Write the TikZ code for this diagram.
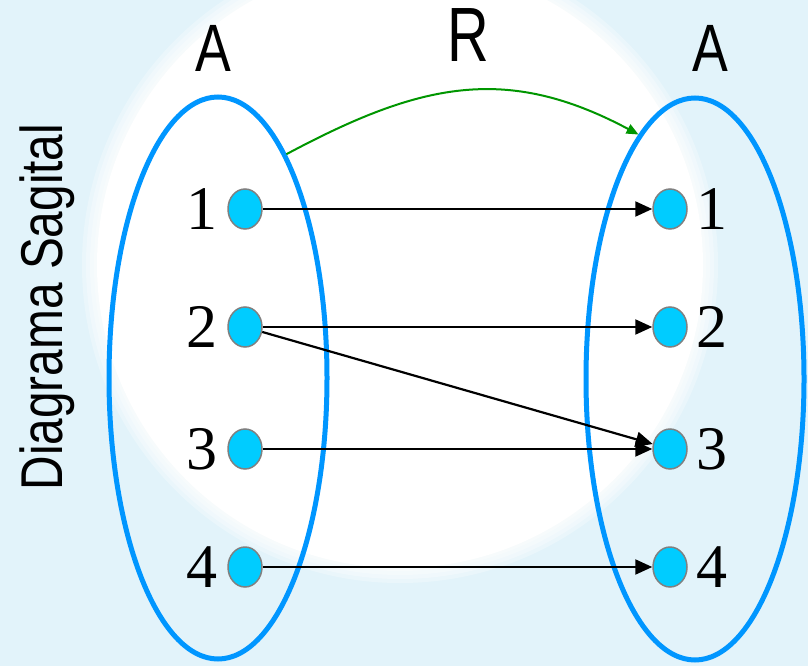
\documentclass[tikz,border=0pt]{standalone}
\usepackage{fontspec}
\setmainfont{Liberation Serif}
\newfontfamily\labelfont{Liberation Sans}
\usetikzlibrary{arrows.meta,shapes.geometric}
\definecolor{sky}{RGB}{226,243,250}
\definecolor{setblue}{RGB}{0,150,255}
\definecolor{dotcyan}{RGB}{0,204,255}
\definecolor{leaf}{RGB}{0,150,0}
\tikzset{
  set/.style={ellipse,draw=setblue,line width=5pt,minimum width=218pt,
    minimum height=562pt,inner sep=0pt},
  dot/.style={ellipse,fill=dotcyan,draw=gray,line width=1.5pt,minimum width=34pt,
    minimum height=40pt,inner sep=0pt},
  num/.style={font=\fontsize{62}{62}\selectfont,inner sep=0pt},
  setname/.style={font=\labelfont\fontsize{67}{67}\selectfont,inner sep=0pt,xscale=0.8},
  relname/.style={font=\labelfont\fontsize{77}{77}\selectfont,inner sep=0pt,xscale=0.75},
  sidetitle/.style={font=\labelfont\fontsize{59}{59}\selectfont,inner sep=0pt,
    rotate=90,anchor=base,xscale=0.81},
  pair/.style={-{Triangle[length=17pt,width=15pt]},line width=2.2pt},
  relarrow/.style={-{Triangle[length=12pt,width=10pt]},draw=leaf,line width=2pt},
}

\begin{document}
\begin{tikzpicture}[x=1pt,y=-1pt]
  \useasboundingbox (0,0) rectangle (808,666);
  % backdrop
  \fill[sky] (0,0) rectangle (808,666);
  \foreach \r in {318,314,...,306}
    \fill[white,opacity=0.3] (400,265) circle[radius=\r pt];
  \fill[white] (400,265) circle[radius=303pt];
  % sets
  \node[set] (setL) at (218,378) {};
  \node[set] (setR) at (695,379) {};
  \node[setname] (nameL) at (213,48) {A};
  \node[setname] (nameR) at (710,48) {A};
  \node[relname] (rel) at (468,35) {R};
  \node[sidetitle] (title) at (62,307) {Diagrama Sagital};
  % elements
  \foreach \y [count=\i] in {209,327,449,567}{
    \node[dot] (l\i) at (245,\y) {};
    \node[num] (nl\i) at (202,\y) {\i};
    \node[dot] (r\i) at (670,\y) {};
    \node[num] (nr\i) at (712,\y) {\i};
  }
  % pairs of R
  \foreach \a/\b in {1/1,2/2,2/3,3/3,4/4}
    \draw[pair] (l\a) -- (r\b);
  \draw[relarrow] (setL.73) .. controls +(133,-71) and +(-133,-71) .. (setR.103);
\end{tikzpicture}
\end{document}
